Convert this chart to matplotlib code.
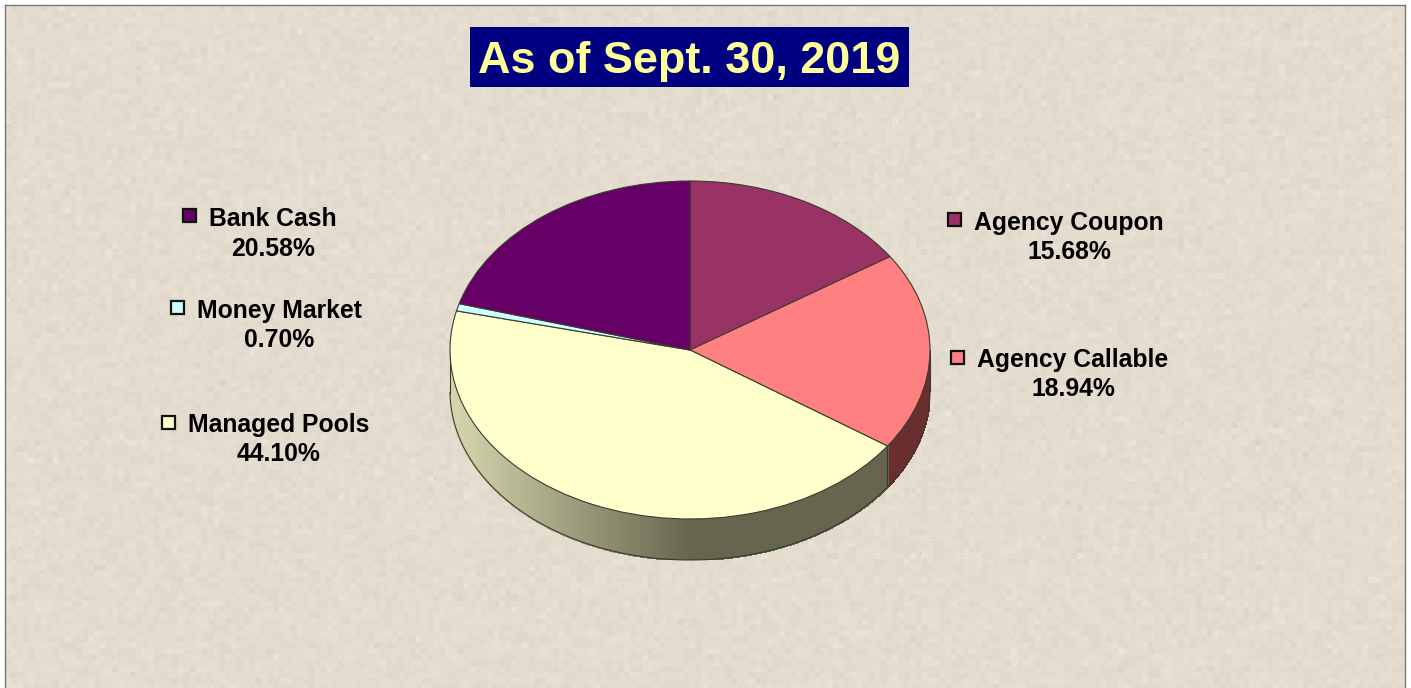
import matplotlib
matplotlib.use("Agg")
import matplotlib.pyplot as plt
import numpy as np
from matplotlib.collections import PolyCollection
from matplotlib.patches import Rectangle

plt.rcParams['font.family'] = ['Liberation Sans', 'DejaVu Sans']

categories = ["Agency Coupon", "Agency Callable", "Managed Pools", "Money Market", "Bank Cash"]
shares = [15.68, 18.94, 44.10, 0.70, 20.58]
colors = ["#993366", "#ff8080", "#ffffcc", "#ccffff", "#660066"]
title = "As of Sept. 30, 2019"

W, H = 1411, 688
cx, cy, rx, ry, depth = 690, 350, 240, 169, 41
# name centre x, name y, percent centre x, percent y, swatch left, swatch top
label_pos = {
    "Agency Coupon": (1069, 223, 1069, 252, 948, 213),
    "Agency Callable": (1072.5, 360, 1073, 389, 951, 351),
    "Managed Pools": (278.5, 425, 279, 454, 162, 416),
    "Money Market": (279, 311, 279, 340, 171, 301),
    "Bank Cash": (272.5, 219, 273, 249, 183, 209),
}
edge = "#3a3a32"

fig = plt.figure(figsize=(W/100, H/100), dpi=100, facecolor="white")

# paper background: soft mottling with a few specks
bg = fig.add_axes([0, 0, 1, 1], zorder=0)
rng = np.random.default_rng(3)
tex = rng.normal(0, 1, (H//6 + 1, W//6 + 1))
tex = np.kron(tex, np.ones((6, 6)))[:H, :W] * 0.009
specks = rng.random((H//2 + 1, W//2 + 1)) > 0.995
tex = tex - np.kron(specks, np.ones((2, 2)))[:H, :W] * 0.035
base = np.array([228, 220, 207]) / 255
img = np.clip(base[None, None, :] + tex[..., None], 0, 1)
bg.imshow(img, extent=(5, 1405, H, 5), aspect="auto", interpolation="bilinear", zorder=0)
bg.set_xlim(0, W)
bg.set_ylim(H, 0)
bg.axis("off")
bg.plot([5, 5], [H, 5], color="#777777", lw=1, zorder=1)
bg.plot([5, 1405], [5, 5], color="#777777", lw=1, zorder=1)
bg.plot([1405, 1405], [5, H], color="#777777", lw=1, zorder=1)

# pie, in unit circle coordinates squashed by the axes shape
d = depth / ry
ax = fig.add_axes([(cx-rx)/W, 1-(cy+ry+depth)/H, 2*rx/W, (2*ry+depth)/H], zorder=2)
ax.pie(shares, colors=colors, startangle=90, counterclock=False, radius=1,
       wedgeprops={"edgecolor": edge, "linewidth": 0.8})
ax.set_aspect("auto")
ax.set_xlim(-1, 1)
ax.set_ylim(-1-d, 1)

# side wall of the disc, lower half only
ends = 90 - np.cumsum(shares) * 3.6
starts = np.r_[90, ends[:-1]]
for i, name in enumerate(categories):
    a0 = (starts[i] % 360)
    a1 = (ends[i] % 360)
    if a0 <= a1:
        a0 += 360
    # sweep clockwise from a0 to a1, keep the part below the horizontal
    ang = np.linspace(a0, a1, 240)
    ang = ang[np.sin(np.radians(ang)) <= 0]
    if len(ang) < 2:
        continue
    x, y = np.cos(np.radians(ang)), np.sin(np.radians(ang))
    quads = [[(x[j], y[j]), (x[j+1], y[j+1]), (x[j+1], y[j+1]-d), (x[j], y[j]-d)] for j in range(len(x)-1)]
    if name == "Managed Pools":
        mid = (x[:-1] + x[1:]) / 2
        light, dark = np.array([0.84, 0.84, 0.68]), np.array([0.40, 0.40, 0.31])
        t = np.clip(mid + 1, 0, 1)[:, None]
        cols = light * (1-t) + dark * t
    else:
        cols = ["#6b2e2e"] * len(quads)
    ax.add_collection(PolyCollection(quads, facecolors=cols, edgecolors=cols, linewidths=1.0,
                                     antialiaseds=False, zorder=0.5))
    ax.plot(x, y-d, color=edge, lw=0.8, zorder=0.6, clip_on=False)
    ax.plot([x[-1], x[-1]], [y[-1], y[-1]-d], color=edge, lw=0.8, zorder=0.6, clip_on=False)
    ax.plot([x[0], x[0]], [y[0], y[0]-d], color=edge, lw=0.8, zorder=0.6, clip_on=False)

# title and labels in pixel coordinates
top = fig.add_axes([0, 0, 1, 1], zorder=3)
top.set_xlim(0, W)
top.set_ylim(H, 0)
top.axis("off")
top.add_patch(Rectangle((470, 27), 439, 60, facecolor="#000080", edgecolor="none"))
top.text(689, 61, title, color="#ffff99", fontsize=32.4, fontweight="bold", ha="center", va="center")
for name, share, col in zip(categories, shares, colors):
    nx, ny, px, py, sx, sy = label_pos[name]
    top.text(nx, ny, name, fontsize=17.8, fontweight="bold", color="black", ha="center", va="center")
    top.text(px, py, f"{share:.2f}%", fontsize=17.8, fontweight="bold", color="black", ha="center", va="center")
    top.add_patch(Rectangle((sx, sy), 13, 13, facecolor=col, edgecolor="#111111", lw=1.6))

fig.savefig("out.png", dpi=100)
